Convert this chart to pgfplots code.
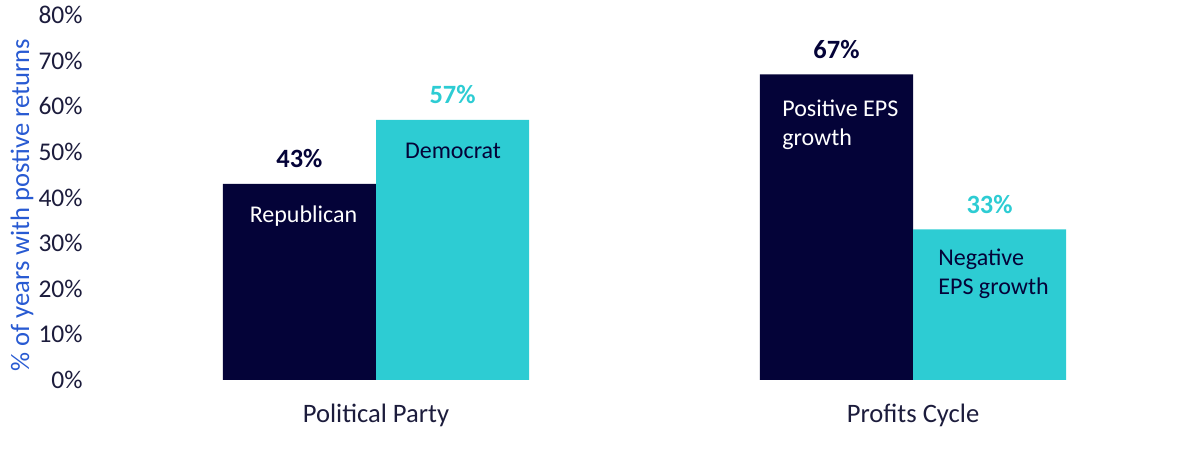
\documentclass[border=0pt]{standalone}
\usepackage{pgfplots}
\pgfplotsset{compat=1.18}
\usepackage{fontspec}
\setmainfont{Carlito}
\definecolor{navy}{RGB}{4,3,56}
\definecolor{teal}{RGB}{45,204,211}
\definecolor{tickc}{RGB}{28,28,60}
\definecolor{ylab}{RGB}{40,90,210}
\begin{document}
\begin{tikzpicture}
\useasboundingbox (0,0) rectangle (600pt,224.5pt);
\begin{axis}[
  at={(53.75pt,34.5pt)}, anchor=south west,
  scale only axis, width=537pt, height=182.5pt,
  xmin=-0.5, xmax=1.5, ymin=0, ymax=80,
  axis line style={draw=none}, major tick length=0pt,
  xtick={0,1}, xticklabels={Political Party, Profits Cycle},
  ytick={0,10,...,80},
  yticklabel={\pgfmathprintnumber{\tick}\%},
  /pgf/number format/assume math mode=true,
  yticklabel style={anchor=east, inner sep=0pt, xshift=-12.25pt, font=\fontsize{12.75pt}{14pt}\selectfont, text=tickc},
  xticklabel style={anchor=base, inner sep=0pt, yshift=-21.3pt, font=\fontsize{13.3pt}{15pt}\selectfont, text=tickc},
  ylabel={\% of years with postive returns},
  ylabel style={at={(axis description cs:-0.0796,0.479)}, anchor=center, rotate=0, font=\fontsize{13.3pt}{15pt}\selectfont, text=ylab},
  ybar=0pt, bar width=0.285,
  nodes near coords={\pgfmathprintnumber{\pgfplotspointmeta}\%},
  every node near coord/.append style={font=\bfseries\fontsize{13.2pt}{15pt}\selectfont, yshift=4.4pt},
  clip=false,
]
\addplot[fill=navy, draw=none, bar shift=-0.1425, nodes near coords style={text=navy}] coordinates {(0,43) (1,67)};
\addplot[fill=teal, draw=none, bar shift=0.1425, nodes near coords style={text=teal}] coordinates {(0,57) (1,33)};
\begin{scope}[every node/.style={font=\fontsize{12pt}{14pt}\selectfont, inner sep=0pt}]
\node[anchor=base, text=white] at ([yshift=-19.4pt]axis cs:-0.135,43) {Republican};
\node[anchor=base, text=navy] at ([yshift=-19.4pt]axis cs:0.1434,57) {Democrat};
\node[anchor=base west, text=white] at ([yshift=-21pt]axis cs:0.756,67) {Positive EPS};
\node[anchor=base west, text=white] at ([yshift=-35.7pt]axis cs:0.756,67) {growth};
\node[anchor=base west, text=navy] at ([yshift=-18pt]axis cs:1.0466,33) {Negative};
\node[anchor=base west, text=navy] at ([yshift=-32.5pt]axis cs:1.0466,33) {EPS growth};
\end{scope}
\end{axis}
\end{tikzpicture}
\end{document}
